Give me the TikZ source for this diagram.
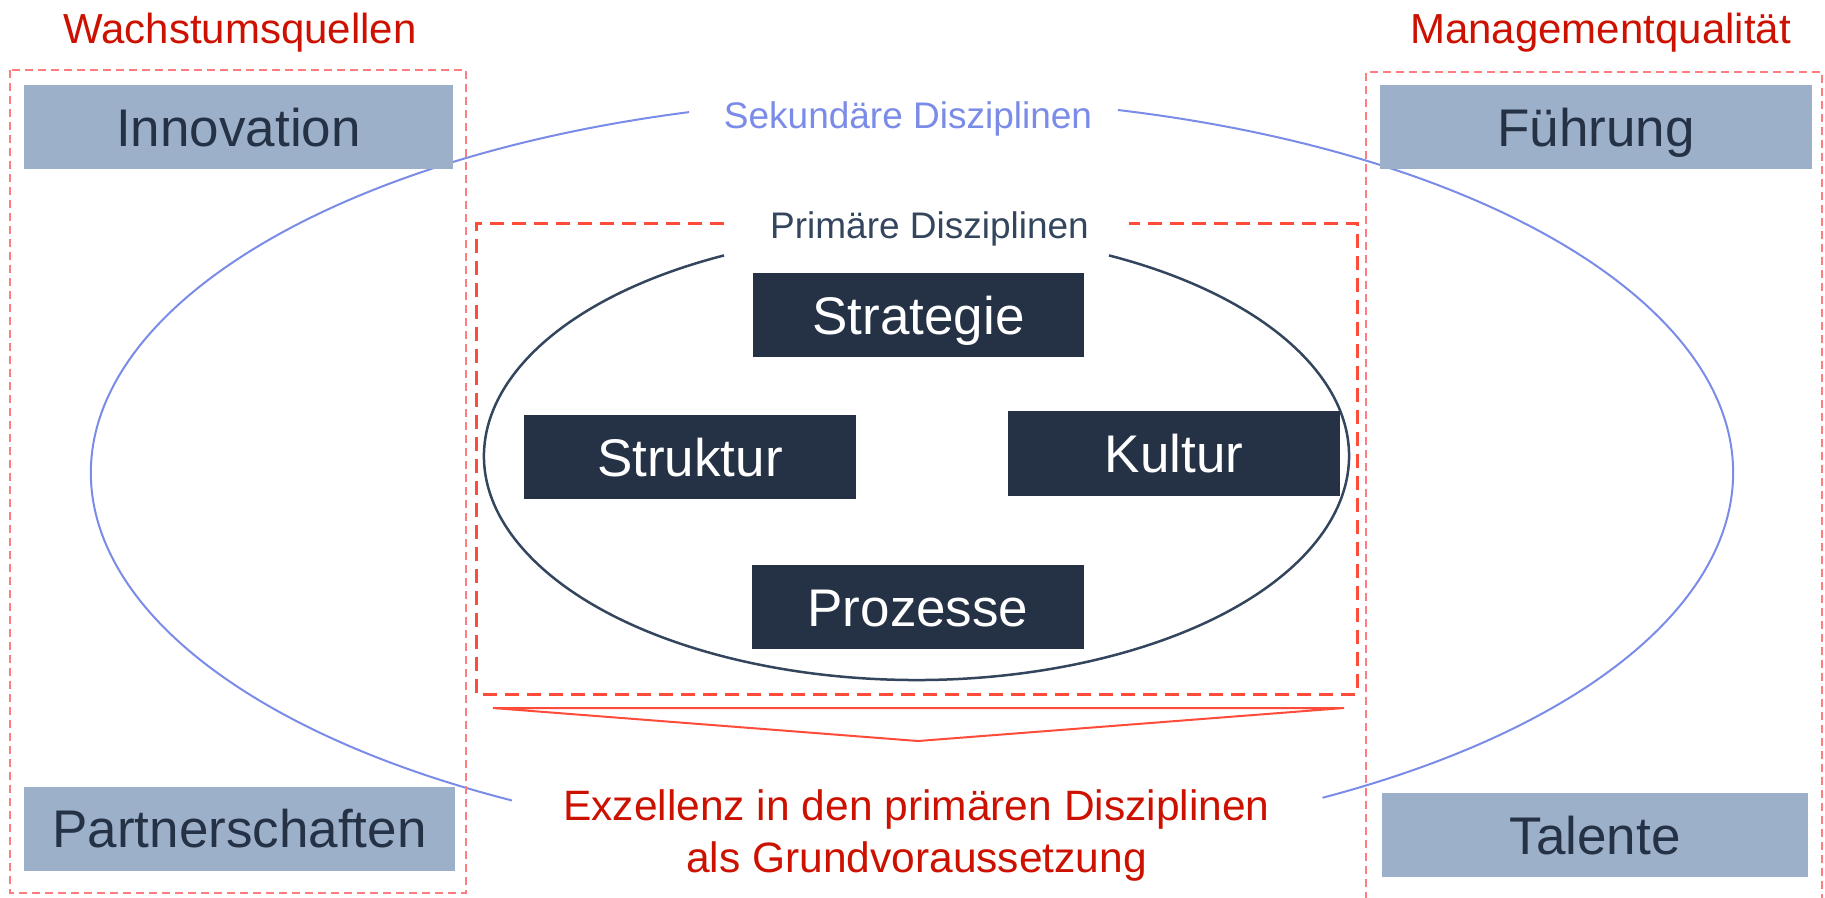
\documentclass[tikz,border=0pt]{standalone}
\usepackage{fontspec}
\setmainfont{Liberation Sans}
\definecolor{redtxt}{HTML}{CC1100}
\definecolor{salmon}{HTML}{FF7C80}
\definecolor{dashred}{HTML}{FF4B3A}
\definecolor{periw}{HTML}{7B8CE8}
\definecolor{slate}{HTML}{34465E}
\definecolor{navy}{HTML}{253245}
\definecolor{greyblue}{HTML}{9DB0C9}
\tikzset{
  boxbase/.style={draw=none, inner sep=0pt, text height=38pt, text depth=0pt,
    font=\fontsize{53}{60}\selectfont, minimum height=84pt},
  lightbox/.style={boxbase, fill=greyblue, text=navy},
  darkbox/.style={boxbase, fill=navy, text=white},
  heading/.style={anchor=base, inner sep=0pt, text=redtxt, font=\fontsize{42}{50}\selectfont},
  groupframe/.style={draw=salmon, line width=1.5pt, dash pattern=on 8pt off 5pt},
  primframe/.style={draw=dashred, line width=3pt, dash pattern=on 14pt off 8pt},
  secellipse/.style={draw=periw, line width=2pt},
  primellipse/.style={draw=slate, line width=2.5pt},
  disclabel/.style={anchor=base, inner sep=0pt, font=\fontsize{37}{44}\selectfont},
  resulttext/.style={anchor=base, inner sep=0pt, text=redtxt, font=\fontsize{42.5}{50}\selectfont},
  funnel/.style={draw=dashred, line width=2pt, line join=miter},
}
\begin{document}
\begin{tikzpicture}[x=1pt,y=1pt]
\useasboundingbox (0,0) rectangle (1825,-897);
\fill[white] (0,0) rectangle (1825,-897);

% secondary ellipse (two arcs, gaps for the labels)
\draw[secellipse] (912,-473) ++(105.76:821pt and 375pt)
   arc[start angle=105.76, end angle=240.84, x radius=821pt, y radius=375pt];
\draw[secellipse] (912,-473) ++(300:821pt and 375pt)
   arc[start angle=300, end angle=435.47, x radius=821pt, y radius=375pt];

% group frames
\draw[groupframe] (10,-70) rectangle (466,-893);
\draw[groupframe] (1366,-900) -- (1366,-72) -- (1822,-72) -- (1822,-900);

% headings
\node[heading] (wachs) at (240,-43) {Wachstumsquellen};
\node[heading] (mgmt) at (1600.5,-43) {Managementqualität};

% light boxes
\node[lightbox, minimum width=429pt] (innov) at (238.5,-127) {Innovation};
\node[lightbox, minimum width=431pt] (partner) at (239.5,-828.5) {Partnerschaften};
\node[lightbox, minimum width=432pt] (fuehr) at (1596,-127) {Führung};
\node[lightbox, minimum width=426pt] (talent) at (1595,-835) {Talente};

% secondary label
\node[disclabel, text=periw] (sek) at (908,-128) {Sekundäre Disziplinen};

% primary frame
\draw[primframe] (724,-223) -- (476,-223) -- (476,-694) -- (1357,-694) -- (1357,-223) -- (1129,-223);
\node[disclabel, text=slate] (prim) at (929.5,-238) {Primäre Disziplinen};

% primary ellipse
\draw[primellipse] (916.5,-456) ++(116.43:432.5pt and 224pt)
   arc[start angle=116.43, end angle=423.57, x radius=432.5pt, y radius=224pt];

% dark boxes
\node[darkbox, minimum width=331pt] (strat) at (918.5,-315) {Strategie};
\node[darkbox, minimum width=332pt] (strukt) at (690,-457) {Struktur};
\node[darkbox, minimum width=332pt, minimum height=85pt] (kultur) at (1174,-453.5) {Kultur};
\node[darkbox, minimum width=332pt] (proz) at (918,-607) {Prozesse};

% funnel
\coordinate (fl) at (493,-708);
\coordinate (fr) at (1344,-708);
\coordinate (fa) at (918,-741);
\draw[funnel] (fl) -- (fr) -- (fa) -- cycle;

% result text
\node[resulttext] (exc1) at (916.5,-820) {Exzellenz in den primären Disziplinen};
\node[resulttext] (exc2) at (916.5,-872) {als Grundvoraussetzung};
\end{tikzpicture}
\end{document}
